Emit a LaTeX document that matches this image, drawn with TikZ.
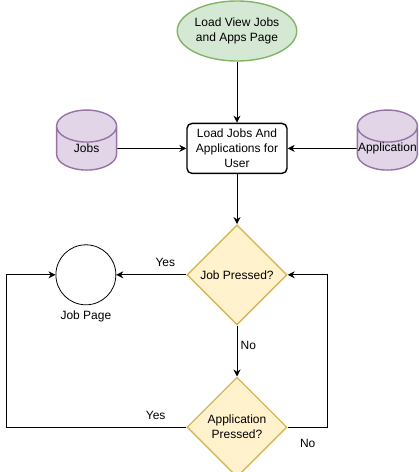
\documentclass[tikz,border=0pt]{standalone}
\usepackage{fontspec}
\setmainfont{Liberation Sans}
\usepackage{tikz}
\usetikzlibrary{positioning,arrows.meta,shapes.geometric}
\definecolor{startfill}{HTML}{D5E8D4}
\definecolor{startdraw}{HTML}{82B366}
\definecolor{dbfill}{HTML}{E1D5E7}
\definecolor{dbdraw}{HTML}{9673A6}
\definecolor{askfill}{HTML}{FFF2CC}
\definecolor{askdraw}{HTML}{D6B656}
\newcommand{\dbtext}[1]{\makebox[40pt]{#1}}
\tikzset{
    >={Stealth[length=7pt,width=7pt]},
    every node/.style={font=\fontsize{12}{15}\selectfont},
    startnode/.style={
        ellipse,
        draw=startdraw, fill=startfill, line width=1.4pt,
        minimum width=100pt,
        minimum height=60pt,
        inner sep=0pt,
        align=center
    },
    loadbox/.style={
        rectangle,
        rounded corners=5pt,
        draw=black, line width=1.4pt,
        minimum width=100pt,
        minimum height=50pt,
        inner sep=0pt,
        align=center
    },
    dbnode/.style={
        cylinder,
        shape border rotate=90,
        aspect=0.8,
        draw=dbdraw, fill=dbfill, line width=1.4pt,
        minimum width=60pt,
        minimum height=60pt,
        inner sep=0pt
    },
    asknode/.style={
        diamond,
        aspect=1,
        draw=askdraw, fill=askfill, line width=1.4pt,
        minimum width=100pt,
        minimum height=100pt,
        inner sep=0pt,
        align=center
    },
    pagenode/.style={
        circle,
        draw=black, line width=0.8pt,
        minimum size=60pt,
        inner sep=0pt
    },
    line/.style={draw, line width=0.8pt, ->}
}

\begin{document}
\begin{tikzpicture}[x=1pt, y=1pt]
    \useasboundingbox (0,0) rectangle (419,-472);
    \node[startnode] (start) at (237,-31) {Load View Jobs\\and Apps Page};
    \node[loadbox, below=61pt of start] (load) {Load Jobs And\\Applications for\\User};
    \node[dbnode, left=69pt of load] (jobs) {\dbtext{Jobs}};
    \node[dbnode, right=69pt of load] (apps) {\dbtext{Application}};
    \node[asknode, below=50pt of load] (askjob) {Job Pressed?};
    \node[asknode, below=51pt of askjob] (askapp) {Application\\Pressed?};
    \node[pagenode, left=70pt of askjob, label={[label distance=2pt]below:Job Page}] (jobpage) {};

    \path[line] (start) -- (load);
    \path[line] (jobs) -- (load);
    \path[line] (apps) -- (load);
    \path[line] (load) -- (askjob);
    \path[line] (askjob) -- node[right, pos=0.4] {No} (askapp);
    \path[line] (askjob) -- node[above=4pt, pos=0.3] {Yes} (jobpage);
    \path[line] (askapp.west) -- node[above=4pt, pos=0.17] {Yes} ++(-180,0) |- (jobpage.west);
    \path[line] (askapp.east) -- node[below=8pt, midway] {No} ++(40,0) |- (askjob.east);
\end{tikzpicture}
\end{document}
